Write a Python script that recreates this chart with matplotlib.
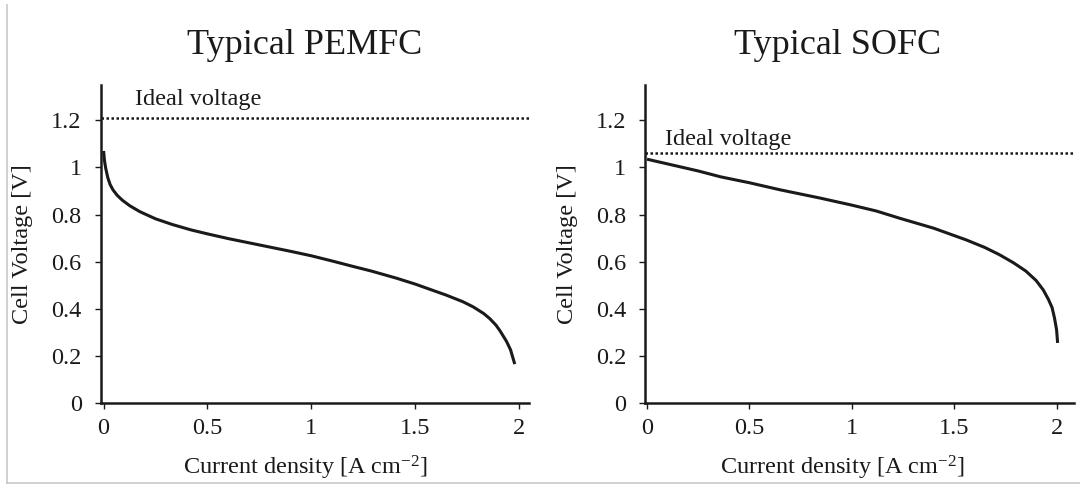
import matplotlib
matplotlib.use("Agg")
import matplotlib.pyplot as plt
from matplotlib.lines import Line2D

plt.rcParams["font.family"] = ["Liberation Serif", "DejaVu Serif"]
plt.rcParams["mathtext.fontset"] = "custom"
plt.rcParams["mathtext.rm"] = "Liberation Serif"
plt.rcParams["mathtext.it"] = "Liberation Serif:italic"

# Polarisation curves (current density in A/cm^2, cell voltage in V)
pem_current = [0.0, 0.004, 0.01, 0.02, 0.031, 0.045, 0.065, 0.09, 0.125, 0.175,
               0.25, 0.33, 0.42, 0.5, 0.6, 0.7, 0.8, 0.9, 1.0, 1.1, 1.2, 1.29,
               1.41, 1.5, 1.57, 1.65, 1.73, 1.78, 1.83, 1.86, 1.89, 1.91, 1.94,
               1.96, 1.98]
pem_voltage = [1.07, 1.03, 0.997, 0.957, 0.928, 0.905, 0.882, 0.861, 0.838, 0.812,
               0.782, 0.758, 0.735, 0.718, 0.698, 0.68, 0.662, 0.644, 0.625, 0.603,
               0.58, 0.56, 0.53, 0.505, 0.483, 0.458, 0.43, 0.408, 0.38, 0.358,
               0.33, 0.305, 0.262, 0.225, 0.165]

sofc_current = [0.0, 0.1, 0.25, 0.36, 0.5, 0.65, 0.845, 1.0, 1.12, 1.235, 1.4,
                1.56, 1.65, 1.72, 1.79, 1.85, 1.9, 1.935, 1.96, 1.978, 1.99,
                2.0, 2.005]
sofc_voltage = [1.035, 1.015, 0.985, 0.96, 0.935, 0.905, 0.87, 0.84, 0.815, 0.784,
                0.742, 0.692, 0.66, 0.63, 0.595, 0.56, 0.52, 0.48, 0.44, 0.405,
                0.36, 0.31, 0.255]

ideal_voltage = [1.21, 1.06]
titles = ["Typical PEMFC", "Typical SOFC"]
x_label = "Current density [A cm$^{\\mathrm{-2}}$]"
y_label = "Cell Voltage [V]"
x_ticks = [0, 0.5, 1, 1.5, 2]
x_tick_labels = ["0", "0.5", "1", "1.5", "2"]
y_ticks = [0, 0.2, 0.4, 0.6, 0.8, 1.0, 1.2]
y_tick_labels = ["0", "0.2", "0.4", "0.6", "0.8", "1", "1.2"]

W, H = 1080, 488
fig = plt.figure(figsize=(W / 100, H / 100), dpi=100)

panels = [
    dict(rect=[100.5, 85, 428.8, 318], xlim=(-0.015, 2.05),
         x=pem_current, y=pem_voltage, ideal=ideal_voltage[0], title=titles[0],
         label_xy=(0.151, 1.287), title_x=305, xlabel_x=305),
    dict(rect=[645, 85, 429, 318], xlim=(-0.01, 2.085),
         x=sofc_current, y=sofc_voltage, ideal=ideal_voltage[1], title=titles[1],
         label_xy=(0.088, 1.117), title_x=838, xlabel_x=842),
]

ink = "#1a1a1a"
for p in panels:
    l, t, w, h = p["rect"]
    ax = fig.add_axes([l / W, 1 - (t + h) / H, w / W, h / H])
    ax.plot(p["x"], p["y"], color=ink, lw=2.2, solid_capstyle="butt",
            solid_joinstyle="round")
    ax.axhline(p["ideal"], color=ink, lw=1.8, linestyle=(0, (1.0, 1.0)))
    ax.text(p["label_xy"][0], p["label_xy"][1], "Ideal voltage", fontsize=17.5,
            color=ink, ha="left", va="center")
    ax.set_xlim(*p["xlim"])
    ax.set_ylim(0, 1.35)
    ax.set_xticks(x_ticks)
    ax.set_xticklabels(x_tick_labels)
    ax.set_yticks(y_ticks)
    ax.set_yticklabels(y_tick_labels)
    for s in ("top", "right"):
        ax.spines[s].set_visible(False)
    for s in ("left", "bottom"):
        ax.spines[s].set_linewidth(1.8)
        ax.spines[s].set_color(ink)
    ax.tick_params(axis="x", direction="out", length=4.5, width=1.0, pad=6,
                   labelsize=17.5, colors=ink)
    ax.tick_params(axis="y", direction="out", length=4, width=1.0, pad=9.5,
                   labelsize=17.5, colors=ink)
    ax.set_ylabel(y_label, fontsize=17.5, color=ink, labelpad=13)
    fig.text(p["xlabel_x"] / W, 1 - 468 / H, x_label, fontsize=17.5,
             color=ink, ha="center", va="center")
    fig.text(p["title_x"] / W, 1 - 45 / H, p["title"], fontsize=26,
             color=ink, ha="center", va="center")

# thin frame lines along the left and bottom edges
fig.add_artist(Line2D([6.5 / W, 6.5 / W], [1 - 483 / H, 1 - 5 / H],
                      transform=fig.transFigure, color="#c8c8c8", lw=1.2))
fig.add_artist(Line2D([6.5 / W, 1.0], [1 - 483 / H, 1 - 483 / H],
                      transform=fig.transFigure, color="#c8c8c8", lw=1.2))

fig.savefig("out.png", dpi=100, facecolor="white")
